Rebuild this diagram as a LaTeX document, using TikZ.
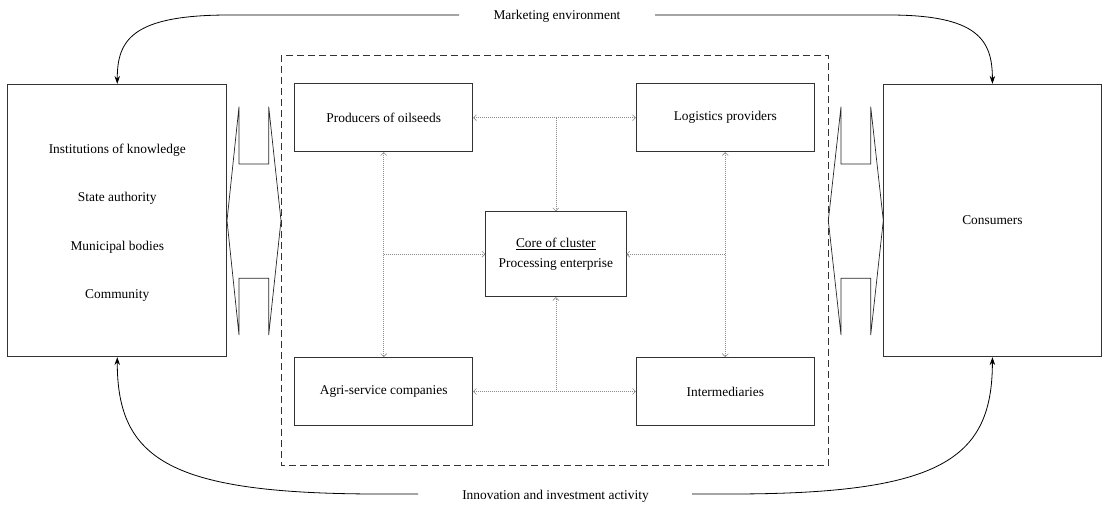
\documentclass[tikz,border=0pt]{standalone}
\usepackage{fontspec}
\setmainfont{Liberation Serif}
\usetikzlibrary{arrows.meta}
\begin{document}
\begin{tikzpicture}[x=1pt,y=-1pt,
  every node/.style={font=\fontsize{13.4}{20}\selectfont, text=black},
  bigbox/.style={draw=black!80, line width=0.8pt, minimum width=219pt, minimum height=272.4pt, inner sep=0pt},
  smallbox/.style={draw=black!80, line width=0.8pt, minimum width=178pt, minimum height=68pt, inner sep=0pt},
  corebox/.style={draw=black!80, line width=0.8pt, minimum width=140.3pt, minimum height=85pt, inner sep=0pt, align=center},
  lbl/.style={inner sep=1pt},
  conn/.style={draw=black!45, line width=0.6pt, dash pattern=on 1pt off 1pt, arrows={-{Straight Barb[length=3pt,width=6pt]}}},
  bconn/.style={conn, arrows={{Straight Barb[length=3pt,width=6pt]}-{Straight Barb[length=3pt,width=6pt]}}},
  envarrow/.style={draw=black, line width=0.8pt, -{Stealth[length=8pt,width=5.5pt]}},
  notch/.style={draw=black!85, line width=0.7pt, line join=miter}
]
\useasboundingbox (0,0) rectangle (1107,504);

% outer boxes
\node[bigbox] (left) at (117.25,220.5) {};
\node[bigbox, minimum width=218.2pt] (right) at (992.4,220.5) {};
\node[lbl] (t1) at (117.25,150) {Institutions of knowledge};
\node[lbl] (t2) at (117.25,198.5) {State authority};
\node[lbl] (t3) at (117.25,247) {Municipal bodies};
\node[lbl] (t4) at (117.25,295.5) {Community};
\node[lbl] (cons) at (992.4,220.5) {Consumers};

% cluster (dashed)
\draw[draw=black!80, line width=0.8pt, dash pattern=on 7pt off 4pt] (281,55) rectangle (828.5,465);

% inner boxes
\node[smallbox] (prod) at (383.7,117.7) {Producers of oilseeds};
\node[smallbox] (logi) at (725.3,117.7) {Logistics providers};
\node[smallbox] (agri) at (383.7,391.5) {Agri-service companies};
\node[smallbox] (inter) at (725.3,391.5) {Intermediaries};
\node[corebox] (core) at (555.85,254.2) {\underline{Core of cluster}\\Processing enterprise};

% dotted connectors
\draw[bconn] (prod.east) -- (logi.west);
\draw[conn] (core.north |- prod.east) -- (core.north);
\draw[bconn] (prod.south) -- (agri.north);
\draw[conn] (prod.south |- core.west) -- (core.west);
\draw[bconn] (logi.south) -- (inter.north);
\draw[conn] (logi.south |- core.east) -- (core.east);
\draw[bconn] (agri.east) -- (inter.west);
\draw[conn] (core.south |- agri.east) -- (core.south);

% notch shapes
\draw[notch] (239,106.7) -- (239,164) -- (268.7,164) -- (268.7,106.7) -- (281,220.5) -- (268.7,335) -- (268.7,278.3) -- (239,278.3) -- (239,335) -- (227,220.5) -- cycle;
\draw[notch] (841,106.7) -- (841,164) -- (870.7,164) -- (870.7,106.7) -- (883.3,220.5) -- (870.7,335) -- (870.7,278.3) -- (841,278.3) -- (841,335) -- (828.3,220.5) -- cycle;

% environment labels and arrows
\node[lbl] (mkt) at (557,16) {Marketing environment};
\node[lbl] (inv) at (555.5,496) {Innovation and investment activity};
\coordinate (mktL) at (459,15);
\coordinate (mktR) at (655,15);
\coordinate (invL) at (418,494);
\coordinate (invR) at (692,494);

\draw[envarrow] (mktL) -- (229,15) .. controls (132,15) and (117.25,40) .. (left.north);
\draw[envarrow] (mktR) -- (889,15) .. controls (978,15) and (992.4,40) .. (right.north);
\draw[envarrow] (invL) -- (380,494) .. controls (170,494) and (117.25,460) .. (left.south);
\draw[envarrow] (invR) -- (730,494) .. controls (940,494) and (992.4,460) .. (right.south);
\end{tikzpicture}
\end{document}
